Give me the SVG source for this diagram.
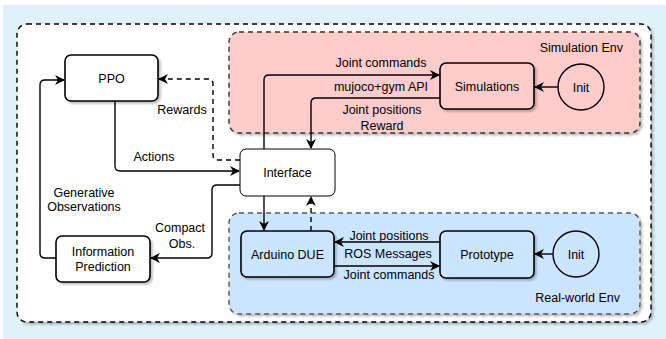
<svg xmlns="http://www.w3.org/2000/svg" width="666" height="339" viewBox="0 0 666 339">
  <defs>
    <marker id="arr" viewBox="0 0 10 10" refX="9" refY="5" markerWidth="10" markerHeight="10" markerUnits="userSpaceOnUse" orient="auto">
      <path d="M0,0 L10,5 L0,10 L3,5 Z" fill="#000"/>
    </marker>
    <filter id="sh" x="-10%" y="-10%" width="130%" height="140%">
      <feDropShadow dx="2" dy="2" stdDeviation="1" flood-color="#000" flood-opacity="0.25"/>
    </filter>
  </defs>
  <style>
    text { font-family: "Liberation Sans", Arial, sans-serif; font-size: 12.5px; fill: #000; }
    .c { text-anchor: middle; }
    .r { text-anchor: end; }
    .box { stroke: #000; stroke-width: 1.6; filter: url(#sh); }
    .line { fill: none; stroke: #000; stroke-width: 1.4; }
    .dash { stroke-dasharray: 5 4; }
  </style>

  <!-- backdrop -->
  <rect x="3" y="5" width="663" height="334" fill="#dff1f9"/>
  <rect x="17" y="24" width="634" height="298" rx="10" fill="#fff" stroke="#000" stroke-width="1.4" stroke-dasharray="5 4" filter="url(#sh)"/>

  <!-- environments -->
  <g id="sim-env">
    <rect x="229" y="32" width="411" height="101" rx="10" fill="#ffcccc" stroke="#333" stroke-width="1.4" stroke-dasharray="5 4" filter="url(#sh)"/>
    <text class="r" x="623" y="52">Simulation Env</text>
  </g>
  <g id="real-env">
    <rect x="229" y="213" width="411" height="101" rx="10" fill="#cce5ff" stroke="#555" stroke-width="1.4" stroke-dasharray="5 4" filter="url(#sh)"/>
    <text class="r" x="620" y="302">Real-world Env</text>
  </g>

  <!-- nodes -->
  <g id="ppo">
    <rect class="box" x="65" y="55" width="93" height="46" rx="6" fill="#fff"/>
    <text class="c" x="111.5" y="82.5">PPO</text>
  </g>
  <g id="interface">
    <rect x="240" y="149" width="95" height="47" rx="6" fill="#fff" stroke="#000" stroke-width="1"/>
    <text class="c" x="287.5" y="177">Interface</text>
  </g>
  <g id="info-pred">
    <rect class="box" x="56" y="236" width="94" height="46" rx="6" fill="#fff"/>
    <text class="c" x="103" y="256">Information</text>
    <text class="c" x="103" y="271">Prediction</text>
  </g>
  <g id="simulations">
    <rect class="box" x="440" y="63" width="94" height="46" rx="6" fill="#ffcccc"/>
    <text class="c" x="487" y="90.5">Simulations</text>
  </g>
  <g id="sim-init">
    <circle cx="581" cy="87" r="23" fill="#ffcccc" stroke="#000" stroke-width="1.4"/>
    <text class="c" x="581" y="91.5">Init</text>
  </g>
  <g id="arduino">
    <rect class="box" x="241" y="231" width="93" height="46" rx="6" fill="#cce5ff"/>
    <text class="c" x="287.5" y="258.5">Arduino DUE</text>
  </g>
  <g id="prototype">
    <rect class="box" x="440" y="231" width="94" height="47" rx="6" fill="#cce5ff" stroke="#333"/>
    <text class="c" x="487" y="258.5">Prototype</text>
  </g>
  <g id="real-init">
    <circle cx="576" cy="254" r="23" fill="#cce5ff" stroke="#000" stroke-width="1.4"/>
    <text class="c" x="576" y="258.5">Init</text>
  </g>

  <!-- connectors -->
  <g id="connectors">
    <path class="line" d="M115,101 V166 Q115,171 120,171 H239" marker-end="url(#arr)"/>
    <path class="line dash" d="M240,160 H218 Q213,160 213,155 V84 Q213,79 208,79 H159" marker-end="url(#arr)"/>
    <path class="line" d="M240,185 H217 Q212,185 212,190 V253 Q212,258 207,258 H151" marker-end="url(#arr)"/>
    <path class="line" d="M56,258 H45 Q40,258 40,253 V85 Q40,80 45,80 H64" marker-end="url(#arr)"/>
    <path class="line" d="M264,149 V80 Q264,75 269,75 H439" marker-end="url(#arr)"/>
    <path class="line" d="M440,98 H316 Q311,98 311,103 V148" marker-end="url(#arr)"/>
    <path class="line" d="M558,87 H535" marker-end="url(#arr)"/>
    <path class="line" d="M264,196 V230" marker-end="url(#arr)"/>
    <path class="line dash" d="M311,231 V197" marker-end="url(#arr)"/>
    <path class="line" d="M440,242 H335" marker-end="url(#arr)"/>
    <path class="line" d="M334,266 H439" marker-end="url(#arr)"/>
    <path class="line" d="M553,254 H535" marker-end="url(#arr)"/>

    <text class="c" x="154" y="161">Actions</text>
    <text class="c" x="182" y="114">Rewards</text>
    <text class="c" x="180" y="232">Compact</text>
    <text class="c" x="182" y="248">Obs.</text>
    <text class="c" x="84" y="197">Generative</text>
    <text class="c" x="84" y="211">Observations</text>
    <text class="c" x="381" y="67">Joint commands</text>
    <text class="c" x="381" y="91">mujoco+gym API</text>
    <text class="c" x="382" y="114">Joint positions</text>
    <text class="c" x="382" y="130">Reward</text>
    <text class="c" x="389" y="240">Joint positions</text>
    <text class="c" x="388" y="258">ROS Messages</text>
    <text class="c" x="389" y="279">Joint commands</text>
  </g>
</svg>
